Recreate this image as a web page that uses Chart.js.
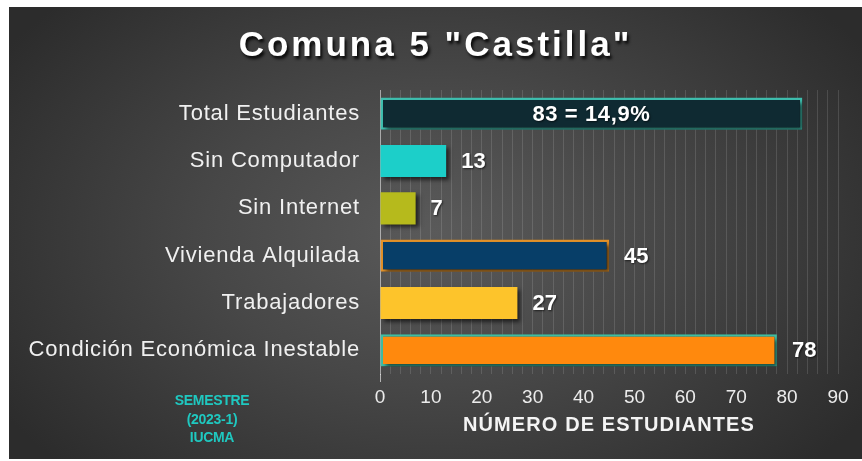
<!DOCTYPE html>
<html>
<head>
<meta charset="utf-8">
<script src="https://cdn.jsdelivr.net/npm/chart.js@4/dist/chart.umd.min.js"></script>
<style>
  html, body { margin: 0; padding: 0; background: #ffffff; }
  body { width: 862px; height: 461px; position: relative; overflow: hidden; }
  #frame {
    position: absolute; left: 9px; top: 7px; width: 853px; height: 452px;
    background: radial-gradient(ellipse 60% 75% at 50% 50%, #5a5a5a 0%, #474747 45%, #2c2c2c 100%);
  }
  #chart { position: absolute; left: 0; top: 0; }
  #title {
    position: absolute; left: 0; top: 17px; width: 853px; text-align: center;
    font-family: "Liberation Sans", Arial, sans-serif; font-weight: bold; font-size: 35px;
    line-height: 40px; letter-spacing: 3px; color: #ffffff;
    text-shadow: 2px 3px 3px rgba(0,0,0,0.85);
  }
  #note {
    position: absolute; left: 143px; top: 384px; width: 120px; text-align: center;
    font-family: "Liberation Sans", Arial, sans-serif; font-weight: bold;
    font-size: 14px; line-height: 18.5px; color: #1fc8c0; letter-spacing: -0.3px;
  }
</style>
</head>
<body>
<div id="frame">
  <canvas id="chart" width="853" height="452"></canvas>
  <div id="title">Comuna 5 "Castilla"</div>
  <div id="note">SEMESTRE<br>(2023-1)<br>IUCMA</div>
</div>
<script>
const categories = ['Total Estudiantes', 'Sin Computador', 'Sin Internet', 'Vivienda Alquilada', 'Trabajadores', 'Condición Económica Inestable'];
const values = [83, 13, 7, 45, 27, 78];
const valueLabels = ['83 = 14,9%', '13', '7', '45', '27', '78'];
const xTickValues = [0, 10, 20, 30, 40, 50, 60, 70, 80, 90];
const xAxisTitle = 'NÚMERO DE ESTUDIANTES';

const fillColors = ['#0f2a32', '#1ccfc9', '#b6ba1c', '#073e68', '#fdc42b', '#ff890d'];
const borderColors = ['#3fc0b0', '#1ccfc9', '#b6ba1c', '#e3922a', '#fdc42b', '#3fbfa4'];
const borderWidths = [2.5, 0, 0, 2.5, 0, 2.5];

function withSpacing(scale, method, spacing) {
  const key = '_patched_' + method;
  if (scale[key]) return;
  const orig = scale[method].bind(scale);
  scale[method] = function (arg) {
    const c = this.ctx;
    c.save();
    c.letterSpacing = spacing;
    orig(arg);
    c.restore();
  };
  scale[key] = true;
}

const shadowPlugin = {
  id: 'barShadow',
  beforeDatasetDraw(chart) {
    const ctx = chart.ctx;
    ctx.save();
    ctx.shadowColor = 'rgba(0,0,0,0.6)';
    ctx.shadowOffsetX = 3;
    ctx.shadowOffsetY = 3;
    ctx.shadowBlur = 4;
  },
  afterDatasetDraw(chart) { chart.ctx.restore(); }
};

const labelPlugin = {
  id: 'valueLabels',
  afterDatasetsDraw(chart) {
    const ctx = chart.ctx;
    const meta = chart.getDatasetMeta(0);
    ctx.save();
    ctx.font = 'bold 22px "Liberation Sans", Arial, sans-serif';
    ctx.fillStyle = '#ffffff';
    ctx.textBaseline = 'middle';
    ctx.shadowColor = 'rgba(0,0,0,0.6)';
    ctx.shadowOffsetX = 1;
    ctx.shadowOffsetY = 1;
    ctx.shadowBlur = 2;
    meta.data.forEach((bar, i) => {
      if (i === 0) {
        ctx.letterSpacing = '0.6px';
        ctx.textAlign = 'center';
        ctx.fillText(valueLabels[i], (bar.base + bar.x) / 2, bar.y + 1);
      } else {
        ctx.letterSpacing = '0px';
        ctx.textAlign = 'left';
        ctx.fillText(valueLabels[i], bar.x + 15, bar.y + 1);
      }
    });
    ctx.restore();
  }
};

new Chart(document.getElementById('chart'), {
  type: 'bar',
  data: {
    labels: categories,
    datasets: [{
      data: values,
      backgroundColor: fillColors,
      borderColor: borderColors,
      borderWidth: borderWidths,
      borderSkipped: false,
      categoryPercentage: 1,
      barPercentage: 0.68
    }]
  },
  options: {
    indexAxis: 'y',
    responsive: false,
    animation: false,
    events: [],
    layout: { padding: { top: 83, right: 24, bottom: 0, left: 0 } },
    plugins: { legend: { display: false }, tooltip: { enabled: false }, title: { display: false } },
    scales: {
      x: {
        min: 0, max: 90,
        afterFit(scale) { scale.height = 85; withSpacing(scale, 'drawTitle', '1.1px'); },
        border: { display: false },
        grid: {
          color: 'rgba(255,255,255,0.13)',
          lineWidth: 1,
          drawTicks: true,
          tickLength: 8,
          tickColor: (c) => c.index === 0 ? 'rgba(255,255,255,0.6)' : 'rgba(0,0,0,0)'
        },
        ticks: {
          stepSize: 2,
          maxTicksLimit: 100,
          autoSkip: false,
          maxRotation: 0,
          padding: 4,
          color: '#ececec',
          font: { family: '"Liberation Sans", Arial, sans-serif', size: 19 },
          callback: (v) => xTickValues.includes(v) ? String(v) : ''
        },
        title: {
          display: true,
          text: xAxisTitle,
          color: '#f4f4f4',
          font: { family: '"Liberation Sans", Arial, sans-serif', size: 20, weight: 'bold' },
          padding: { top: 0, bottom: 22 }
        }
      },
      y: {
        afterFit(scale) { scale.width = 371; withSpacing(scale, 'drawLabels', '0.8px'); },
        border: { display: true, color: 'rgba(255,255,255,0.45)', width: 1 },
        grid: { display: false, drawTicks: false },
        ticks: {
          padding: 20,
          color: '#f0f0f0',
          font: { family: '"Liberation Sans", Arial, sans-serif', size: 22 }
        }
      }
    }
  },
  plugins: [shadowPlugin, labelPlugin]
});
</script>
</body>
</html>
